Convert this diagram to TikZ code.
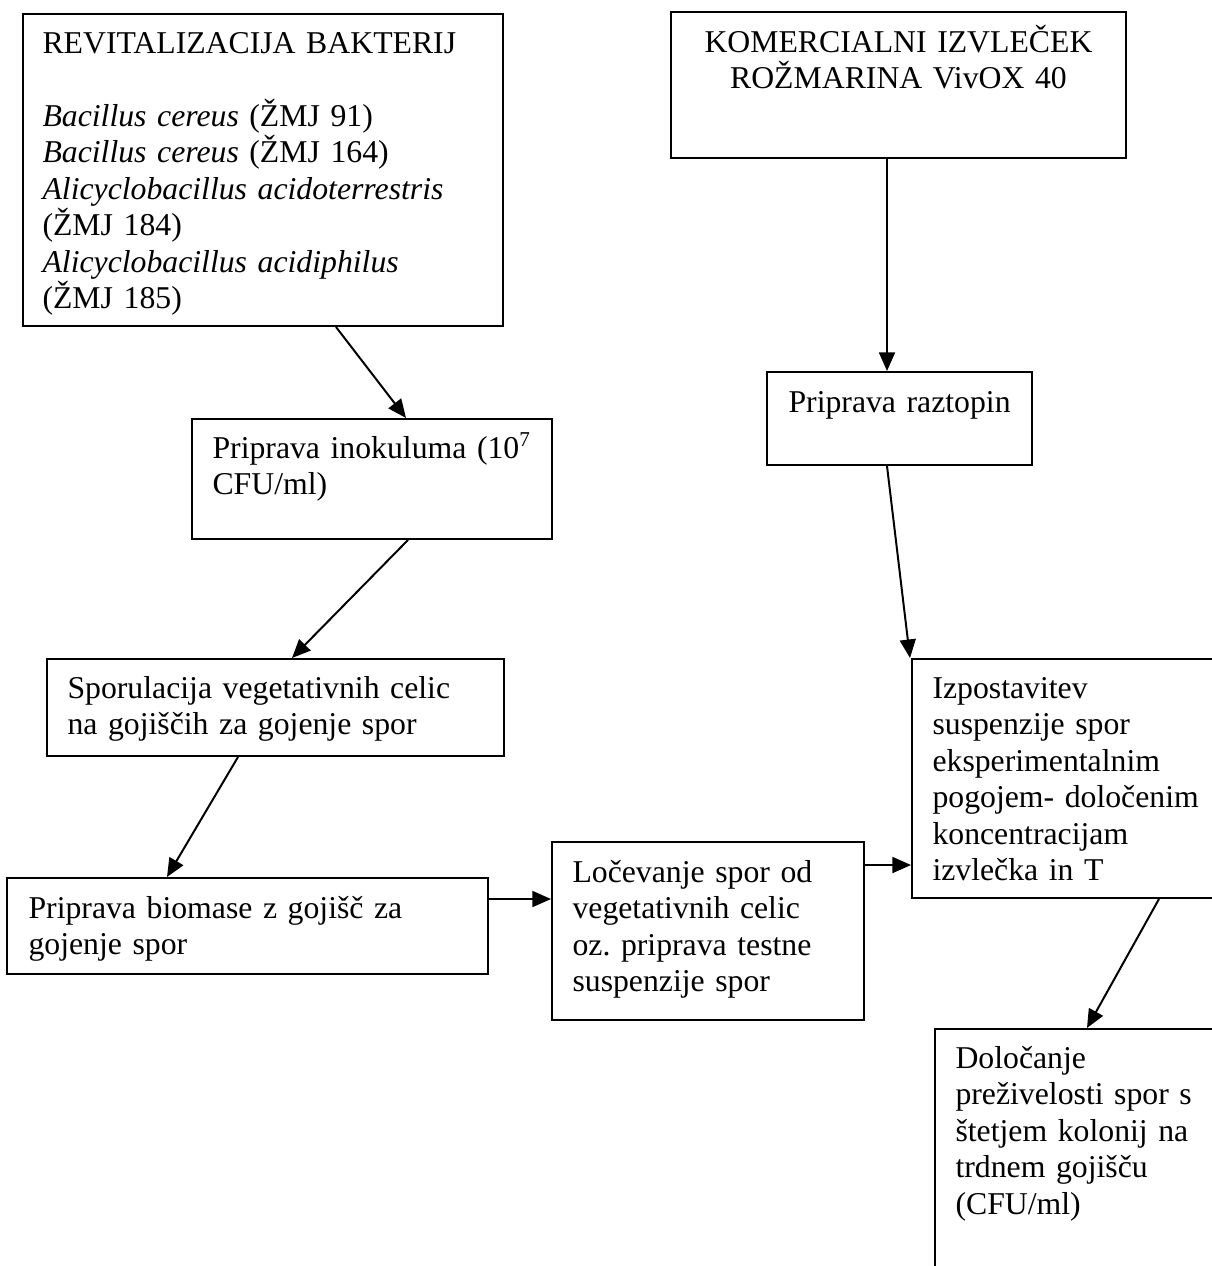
\documentclass[tikz,border=0pt]{standalone}
\usepackage{fontspec}
\setmainfont{Liberation Serif}
\usepackage{tikz}
\usetikzlibrary{arrows.meta, calc}
\tikzset{
  blk/.style  = {draw, line width=0.75pt, rectangle, inner sep=0pt, anchor=north west},
  txt/.style  = {anchor=base west, inner sep=0pt, align=left, text width=200pt,
                 font=\fontsize{12pt}{13.8pt}\selectfont},
  flow/.style = {-{Triangle[length=7pt, width=6pt]}, line width=0.75pt},
}
\frenchspacing

\begin{document}
\begin{tikzpicture}[x=0.378pt, y=-0.378pt]
    \useasboundingbox (0,0) rectangle (1212,1266);
    \clip (0,0) rectangle (1212,1266);

    \node[blk, minimum width=480*0.378pt, minimum height=312*0.378pt] (rev) at (22,13) {};
    \node[blk, minimum width=455*0.378pt, minimum height=146*0.378pt] (kom) at (670,11) {};
    \node[blk, minimum width=360*0.378pt, minimum height=120*0.378pt] (inok) at (191,418) {};
    \node[blk, minimum width=265*0.378pt, minimum height=93*0.378pt] (razt) at (766,371) {};
    \node[blk, minimum width=457*0.378pt, minimum height=97*0.378pt] (spor) at (46,658) {};
    \node[blk, minimum width=481*0.378pt, minimum height=96*0.378pt] (bio) at (6,877) {};
    \node[blk, minimum width=312*0.378pt, minimum height=178*0.378pt] (loc) at (551,841) {};
    \node[blk, minimum width=340*0.378pt, minimum height=239*0.378pt] (izp) at (911,658) {};
    \node[blk, minimum width=320*0.378pt, minimum height=300*0.378pt] (dol) at (934,1028) {};

    \node[txt] at ($(rev.north west)+(20,40)$)
      {REVITALIZACIJA BAKTERIJ\\[13.8pt]
       \textit{Bacillus cereus} (ŽMJ 91)\\
       \textit{Bacillus cereus} (ŽMJ 164)\\
       \textit{Alicyclobacillus acidoterrestris}\\
       (ŽMJ 184)\\
       \textit{Alicyclobacillus acidiphilus}\\
       (ŽMJ 185)};
    \node[txt, anchor=base, align=center] at ($(kom.north)+(0,41)$)
      {KOMERCIALNI IZVLEČEK\\ROŽMARINA VivOX 40};
    \node[txt] at ($(inok.north west)+(21,40)$) {Priprava inokuluma (10\textsuperscript{7}\\CFU/ml)};
    \node[txt] at ($(razt.north west)+(22,41)$) {Priprava raztopin};
    \node[txt] at ($(spor.north west)+(21,40)$) {Sporulacija vegetativnih celic\\na gojiščih za gojenje spor};
    \node[txt] at ($(bio.north west)+(22,41)$) {Priprava biomase z gojišč za\\gojenje spor};
    \node[txt] at ($(loc.north west)+(21,41)$)
      {Ločevanje spor od\\vegetativnih celic\\oz. priprava testne\\suspenzije spor};
    \node[txt] at ($(izp.north west)+(21,40)$)
      {Izpostavitev\\suspenzije spor\\eksperimentalnim\\pogojem- določenim\\koncentracijam\\izvlečka in T};
    \node[txt] at ($(dol.north west)+(21,40)$)
      {Določanje\\preživelosti spor s\\štetjem kolonij na\\trdnem gojišču\\(CFU/ml)};

    \draw[flow] ($(rev.south west)+(314,0)$) -- ($(inok.north west)+(215,0)$);
    \draw[flow] ($(inok.south west)+(217,0)$) -- ($(spor.north west)+(246,0)$);
    \draw[flow] ($(spor.south west)+(192,0)$) -- ($(bio.north west)+(161,0)$);
    \draw[flow] ($(bio.north east)+(0,22)$) -- ($(loc.north west)+(0,58)$);
    \draw[flow] ($(loc.north east)+(0,24)$) -- ($(izp.north west)+(0,207)$);
    \draw[flow] ($(kom.south west)+(217,0)$) -- ($(razt.north west)+(121,0)$);
    \draw[flow] ($(razt.south west)+(121,0)$) -- ($(izp.north west)+(-1,0)$);
    \draw[flow] ($(izp.south west)+(248,0)$) -- ($(dol.north west)+(153,0)$);
  \end{tikzpicture}
\end{document}
